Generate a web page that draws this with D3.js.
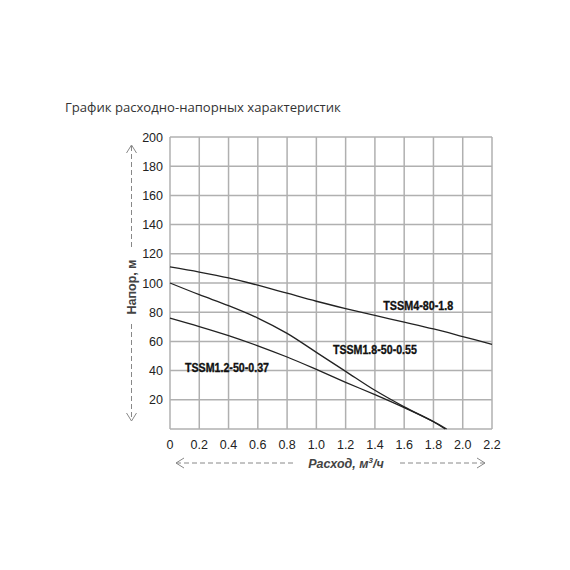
<!DOCTYPE html>
<html><head><meta charset="utf-8">
<script src="https://cdn.jsdelivr.net/npm/d3@7"></script>
<style>body{margin:0;background:#fff}svg{display:block}</style>
</head><body>
<svg id="c" width="570" height="570"></svg>
<script>
const xTicks = [0,0.2,0.4,0.6,0.8,1.0,1.2,1.4,1.6,1.8,2.0,2.2];
const xTickLabels = ["0","0.2","0.4","0.6","0.8","1.0","1.2","1.4","1.6","1.8","2.0","2.2"];
const yTicks = [0,20,40,60,80,100,120,140,160,180,200];
const yTickLabels = ["","20","40","60","80","100","120","140","160","180","200"];

const flowA = [0,0.2,0.4,0.6,0.8,1.0,1.2,1.4,1.6,1.8,2.0,2.2];
const headA = [111,107.5,103.5,98.5,93,87.5,82.5,77.8,73.2,68.5,63.3,58];
const nameA = "TSSM4-80-1.8";

const flowB = [0,0.2,0.4,0.6,0.8,1.0,1.2,1.4,1.6,1.8,1.88];
const headB = [100,92,84.5,76,65.5,52.5,39.5,26.5,15.2,5,0];
const nameB = "TSSM1.8-50-0.55";

const flowC = [0,0.2,0.4,0.6,0.8,1.0,1.2,1.4,1.6,1.8,1.89];
const headC = [76,70.2,64,57,49.3,40.8,32,23.5,14.6,5,0];
const nameC = "TSSM1.2-50-0.37";

const title = "График расходно-напорных характеристик";
const yLabel = "Напор, м";

const svg = d3.select("#c");
const L=170, R=492, T=137, B=429;
const x = d3.scaleLinear().domain([0,2.2]).range([L,R]);
const y = d3.scaleLinear().domain([0,200]).range([B,T]);

svg.append("text").attr("x",65).attr("y",112).text(title)
  .attr("font-family","Open Sans, sans-serif").attr("font-size",13.1).attr("fill","#333");

// grid
const g = svg.append("g");
g.selectAll(".vx").data(xTicks).join("line")
  .attr("x1",d=>x(d)).attr("x2",d=>x(d)).attr("y1",T).attr("y2",B)
  .attr("stroke","#b0b0b0").attr("stroke-width",1.5);
g.selectAll(".hy").data(yTicks).join("line")
  .attr("x1",L).attr("x2",R).attr("y1",d=>y(d)).attr("y2",d=>y(d))
  .attr("stroke","#b0b0b0").attr("stroke-width",1.5);

// tick labels
svg.selectAll(".yl").data(yTicks).join("text")
  .attr("x",163).attr("y",d=>y(d)+4.5).attr("text-anchor","end")
  .text((d,i)=>yTickLabels[i])
  .attr("font-family","Liberation Sans, Arial, sans-serif").attr("font-size",12.5).attr("fill","#222");
svg.selectAll(".xl").data(xTicks).join("text")
  .attr("x",d=>x(d)).attr("y",449).attr("text-anchor","middle")
  .text((d,i)=>xTickLabels[i])
  .attr("font-family","Liberation Sans, Arial, sans-serif").attr("font-size",12.5).attr("fill","#222");

// curves
const line = d3.line().x(d=>x(d[0])).y(d=>y(d[1])).curve(d3.curveCatmullRom.alpha(0.5));
[[flowA,headA],[flowB,headB],[flowC,headC]].forEach(([f,h])=>{
  svg.append("path").attr("d",line(f.map((v,i)=>[v,h[i]])))
    .attr("fill","none").attr("stroke","#222").attr("stroke-width",1.3);
});

function lab(t,px,py,w){
  svg.append("text").attr("x",px).attr("y",py).text(t)
    .attr("font-family","Liberation Sans Narrow, Arial Narrow, sans-serif")
    .attr("font-weight","bold").attr("font-size",13).attr("fill","#111")
    .attr("stroke","#111").attr("stroke-width",0.35)
    .attr("textLength",w).attr("lengthAdjust","spacingAndGlyphs");
}
lab(nameA, x(1.457), y(81.8), 70);
lab(nameB, x(1.113), y(51.5), 84);
lab(nameC, x(0.1025), y(39), 84);

// y axis label and dashed arrow
const ax = 131.5;
svg.append("text").attr("transform",`translate(${ax+4.5},287) rotate(-90)`)
  .attr("text-anchor","middle").text(yLabel)
  .attr("font-family","Liberation Sans, Arial, sans-serif").attr("font-weight","bold")
  .attr("font-size",12.5).attr("fill","#444");
const dash = {"stroke":"#888","stroke-width":1,"stroke-dasharray":"5,3","fill":"none"};
function dl(x1,y1,x2,y2){const l=svg.append("line").attr("x1",x1).attr("y1",y1).attr("x2",x2).attr("y2",y2);for(const k in dash)l.attr(k,dash[k]);}
function pl(pts){svg.append("polyline").attr("points",pts.map(p=>p.join(",")).join(" ")).attr("fill","none").attr("stroke","#888").attr("stroke-width",1);}
dl(ax,146,ax,250); dl(ax,324,ax,420);
pl([[ax-5,153],[ax,145],[ax+5,153]]);
pl([[ax-5,413],[ax,421],[ax+5,413]]);

// x axis label and arrows
const ay = 463;
svg.append("text").attr("x",346).attr("y",ay+4.5).attr("text-anchor","middle")
  .attr("font-family","Liberation Sans, Arial, sans-serif").attr("font-weight","bold").attr("font-style","italic")
  .attr("font-size",12.5).attr("fill","#444")
  .html('Расход, м<tspan dy="-5" font-size="8">3</tspan><tspan dy="5">/ч</tspan>');
dl(176,ay,294,ay); dl(400,ay,485,ay);
pl([[184,ay-5],[176,ay],[184,ay+5]]);
pl([[477,ay-5],[485,ay],[477,ay+5]]);
</script>
</body></html>
